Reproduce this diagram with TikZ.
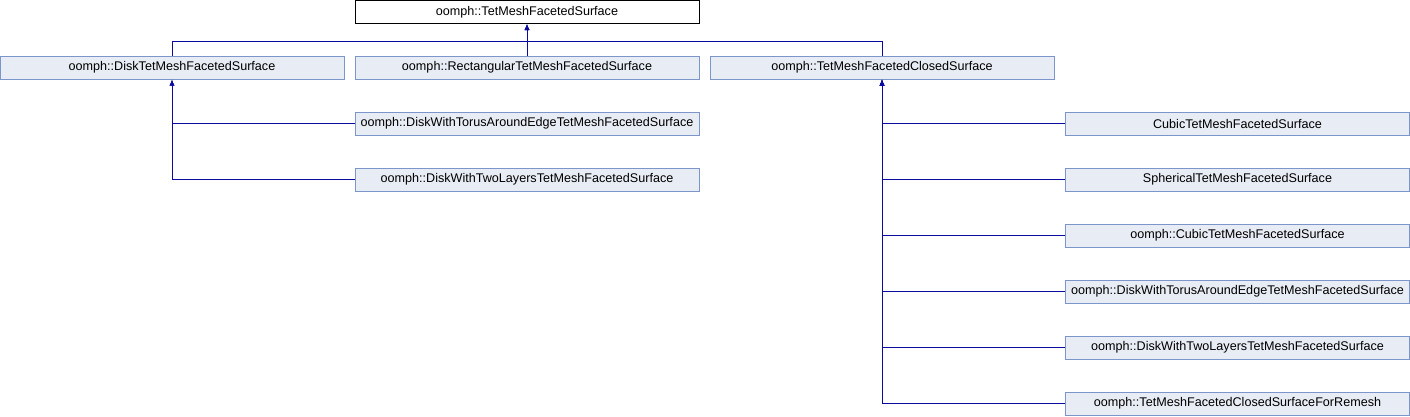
\documentclass[tikz,border=0pt]{standalone}
\usepackage{fontspec}
\setmainfont{Liberation Sans}
\usetikzlibrary{arrows.meta}
\definecolor{boxfill}{RGB}{232,236,244}
\definecolor{boxdraw}{RGB}{124,150,204}
\definecolor{edgecol}{RGB}{10,10,160}
\begin{document}
\begin{tikzpicture}[x=1pt,y=-1pt,
  cls/.style={draw=boxdraw,fill=boxfill,line width=1pt,minimum width=344pt,minimum height=23pt,inner sep=0pt,font=\fontsize{12.6}{14}\selectfont},
  topcls/.style={cls,draw=black,fill=white},
  arr/.style={draw=edgecol,line width=1pt,-{Latex[length=6pt,width=5pt]}}]
\useasboundingbox (0,0) rectangle (1410,416);
\node[topcls] (top) at (527,12) {oomph::TetMeshFacetedSurface};
\node[cls] (disk) at (172,67.5) {oomph::DiskTetMeshFacetedSurface};
\node[cls] (rect) at (527,67.5) {oomph::RectangularTetMeshFacetedSurface};
\node[cls] (closed) at (882,67.5) {oomph::TetMeshFacetedClosedSurface};
\node[cls] (dtorus) at (527,123.5) {oomph::DiskWithTorusAroundEdgeTetMeshFacetedSurface};
\node[cls] (dtwo) at (527,179.5) {oomph::DiskWithTwoLayersTetMeshFacetedSurface};
\node[cls] (c1) at (1237.5,123.5) {CubicTetMeshFacetedSurface};
\node[cls] (c2) at (1237.5,179.5) {SphericalTetMeshFacetedSurface};
\node[cls] (c3) at (1237.5,235.5) {oomph::CubicTetMeshFacetedSurface};
\node[cls] (c4) at (1237.5,291.5) {oomph::DiskWithTorusAroundEdgeTetMeshFacetedSurface};
\node[cls] (c5) at (1237.5,347.5) {oomph::DiskWithTwoLayersTetMeshFacetedSurface};
\node[cls] (c6) at (1237.5,403.5) {oomph::TetMeshFacetedClosedSurfaceForRemesh};
\coordinate (j) at (527,41);
\draw[arr] (disk.north) |- (j) -- (top.south);
\draw[arr] (closed.north) |- (j) -- (top.south);
\draw[arr] (rect.north) -- (top.south);
\draw[arr] (dtorus.west) -| (disk.south);
\draw[arr] (dtwo.west) -| (disk.south);
\foreach \c in {c1,c2,c3,c4,c5,c6} \draw[arr] (\c.west) -| (closed.south);
\end{tikzpicture}
\end{document}
